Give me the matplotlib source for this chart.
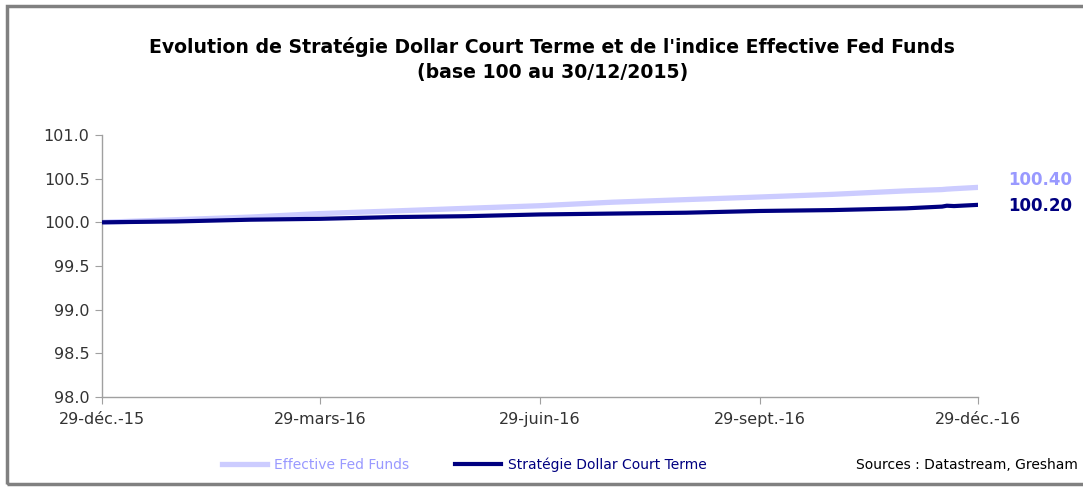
import matplotlib
matplotlib.use("Agg")
import matplotlib.pyplot as plt
from matplotlib.lines import Line2D
from matplotlib.patches import Rectangle
import pandas as pd

plt.rcParams['font.family'] = ['DejaVu Sans']

# ---- data ----
dates = ["2015-12-29", "2016-01-29", "2016-02-29", "2016-03-29", "2016-04-29",
         "2016-05-29", "2016-06-29", "2016-07-29", "2016-08-29", "2016-09-29",
         "2016-10-29", "2016-11-29", "2016-12-14", "2016-12-16", "2016-12-19",
         "2016-12-29"]
fed_funds = [100.00, 100.03, 100.06, 100.10, 100.13, 100.16, 100.19, 100.23,
             100.26, 100.29, 100.32, 100.36, 100.375, 100.38, 100.385, 100.40]
strategie = [100.00, 100.01, 100.03, 100.04, 100.06, 100.07, 100.09, 100.10,
             100.11, 100.13, 100.14, 100.16, 100.18, 100.19, 100.186, 100.20]
series_names = ["Effective Fed Funds", "Stratégie Dollar Court Terme"]
tick_dates = ["2015-12-29", "2016-03-29", "2016-06-29", "2016-09-29", "2016-12-29"]
tick_labels = ["29-déc.-15", "29-mars-16", "29-juin-16", "29-sept.-16", "29-déc.-16"]
end_labels = ["100.40", "100.20"]
title = ("Evolution de Stratégie Dollar Court Terme et de l'indice Effective Fed Funds\n"
         "(base 100 au 30/12/2015)")
source = "Sources : Datastream, Gresham"

light = "#CCCCFF"
light_txt = "#9999FF"
dark = "#000080"

x = pd.to_datetime(dates)
fig = plt.figure(figsize=(10.83, 4.88), dpi=100)
ax = fig.add_axes([0.0942, 0.1865, 0.8088, 0.5369])

ax.plot(x, fed_funds, color=light, lw=3.8, solid_capstyle='round', zorder=2)
ax.plot(x, strategie, color=dark, lw=3.0, solid_capstyle='round', zorder=3)

ax.set_ylim(98.0, 101.0)
ax.set_yticks([98.0, 98.5, 99.0, 99.5, 100.0, 100.5, 101.0])
ax.set_yticklabels([f"{v:.1f}" for v in ax.get_yticks()])
ax.set_xlim(pd.Timestamp(tick_dates[0]), pd.Timestamp(tick_dates[-1]))
ax.set_xticks(pd.to_datetime(tick_dates))
ax.set_xticklabels(tick_labels)

for s in ["top", "right"]:
    ax.spines[s].set_visible(False)
for s in ["left", "bottom"]:
    ax.spines[s].set_color("#A0A0A0")
    ax.spines[s].set_linewidth(1.0)
ax.tick_params(axis='both', colors="#A0A0A0", labelcolor="#333333",
               labelsize=11.5, length=5, direction='out')
ax.tick_params(axis='x', pad=6)
ax.tick_params(axis='y', pad=4)

ax.annotate(end_labels[0], xy=(x[-1], fed_funds[-1]), xytext=(21.5, 5),
            textcoords='offset points', color=light_txt, fontsize=12,
            fontweight='bold', va='center', ha='left', annotation_clip=False)
ax.annotate(end_labels[1], xy=(x[-1], strategie[-1]), xytext=(21.5, -1),
            textcoords='offset points', color=dark, fontsize=12,
            fontweight='bold', va='center', ha='left', annotation_clip=False)

fig.text(0.51, 0.878, title, ha='center', va='center', fontsize=13.6,
         fontweight='bold', color="#000000", linespacing=1.4)

handles = [Line2D([], [], color=light, lw=3.8), Line2D([], [], color=dark, lw=3.0)]
leg = fig.legend(handles, series_names, loc='center left',
                 bbox_to_anchor=(0.193, 0.047), ncol=2, frameon=False,
                 fontsize=10, handlelength=3.3, handletextpad=0.5,
                 columnspacing=3.3)
leg.get_texts()[0].set_color(light_txt)
leg.get_texts()[1].set_color(dark)

fig.text(0.995, 0.047, source, ha='right', va='center', fontsize=10, color="#000000")

fig.patches.append(Rectangle((7 / 1083, 4 / 488), 1.1, 478 / 488,
                             transform=fig.transFigure, fill=False,
                             edgecolor="#808080", lw=2.5, clip_on=False))

fig.savefig("out.png", dpi=100)
